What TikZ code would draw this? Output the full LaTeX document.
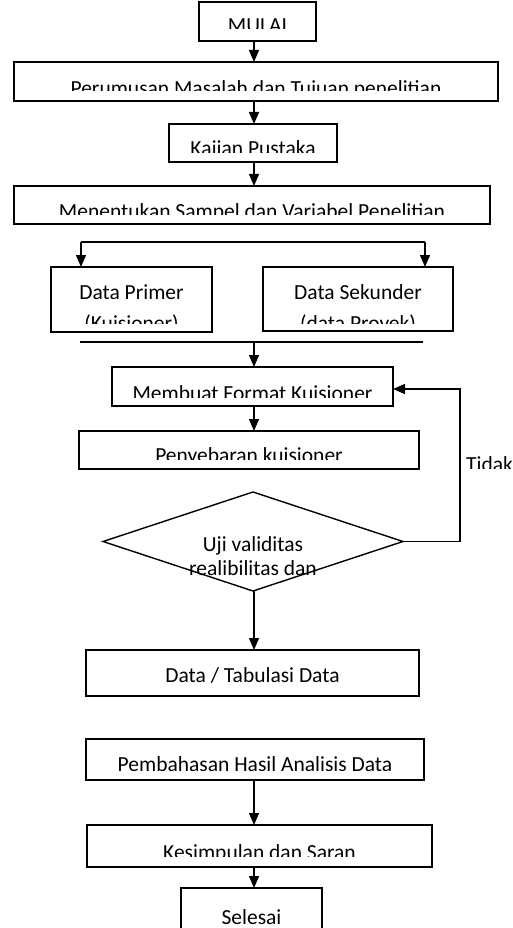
\documentclass[tikz,border=0pt]{standalone}
\usepackage{fontspec}
\setmainfont{Carlito}
\usetikzlibrary{arrows.meta,shapes.geometric}
\newcommand\flowbox[5]{\node[box, minimum width={(#4-#2)*1pt}, minimum height={(#5-#3)*1pt}] (#1) at ({(#2+#4)/2},{(#3+#5)/2}) {};}
\newcommand\boxtext[4]{\begin{scope}\clip (#1.north west) rectangle (#1.east |- 0,#2);\node[txt] (#1-t) at (#1.center |- 0,#3) {#4};\end{scope}}
\begin{document}
\begin{tikzpicture}[x=1pt,y=-1pt,
  box/.style={draw, line width=1.4pt, rectangle, inner sep=0pt, outer sep=0pt},
  txt/.style={anchor=base, inner sep=0pt, font=\fontsize{21.5}{26}\selectfont},
  arr/.style={line width=1.4pt, -{Triangle[width=10pt,length=12pt]}},
  ln/.style={line width=1.4pt}]
\clip (0,0) rectangle (513,928);
\coordinate (axis) at (254,0);
% boxes
\flowbox{mulai}{199}{2}{316}{41}
\boxtext{mulai}{29}{33}{MULAI}
\flowbox{rumus}{14}{62}{498}{101}
\boxtext{rumus}{91}{95.5}{Perumusan Masalah dan Tujuan penelitian}
\flowbox{kajian}{169}{124}{337}{162}
\boxtext{kajian}{153}{156}{Kajian Pustaka}
\flowbox{sampel}{14}{186}{490}{224}
\boxtext{sampel}{214}{218}{Menentukan Sampel dan Variabel Penelitian}
\flowbox{primer}{51}{267}{212}{332}
\flowbox{sekunder}{263}{267}{453}{331}
\begin{scope}
\clip (primer.north west) rectangle (primer.east |- 0,323);
\node[txt] (primer-t1) at (primer.center |- 0,299) {Data Primer};
\node[txt] (primer-t2) at (primer.center |- 0,330) {(Kuisioner)};
\end{scope}
\begin{scope}
\clip (sekunder.north west) rectangle (sekunder.east |- 0,323);
\node[txt] (sekunder-t1) at (sekunder.center |- 0,299) {Data Sekunder};
\node[txt] (sekunder-t2) at (sekunder.center |- 0,330) {(data Proyek)};
\end{scope}
\flowbox{format}{112}{367}{393}{406}
\boxtext{format}{397}{400}{Membuat Format Kuisioner}
\flowbox{sebar}{79}{431}{419}{469}
\boxtext{sebar}{459}{462}{Penyebaran kuisioner}
\node[draw, diamond, line width=1.4pt, inner sep=0pt, outer sep=0pt, minimum width=300pt, minimum height=99pt] (uji) at (253,541.5) {};
\node[txt] (uji-t1) at (253,551) {Uji validitas};
\node[txt] (uji-t2) at (253,575) {realibilitas dan};
\flowbox{tabulasi}{86}{650}{419}{696}
\boxtext{tabulasi}{696}{682}{Data / Tabulasi Data}
\flowbox{bahas}{86}{739}{424}{780}
\boxtext{bahas}{770}{771}{Pembahasan Hasil Analisis Data}
\flowbox{simpul}{87}{825}{432}{867}
\boxtext{simpul}{856}{859}{Kesimpulan dan Saran}
\flowbox{selesai}{181}{888}{322}{960}
\boxtext{selesai}{960}{924}{Selesai}
% Tidak label
\begin{scope}
\clip (440,440) rectangle (513,468);
\node[txt, anchor=base west] (tidak) at (466,471) {Tidak};
\end{scope}
% connectors
\draw[arr] (mulai.south -| axis) -- (rumus.north -| axis);
\draw[arr] (rumus.south -| axis) -- (kajian.north -| axis);
\draw[arr] (kajian.south -| axis) -- (sampel.north -| axis);
\coordinate (sL) at (81,242);
\coordinate (sR) at (425,242);
\draw[ln] (sL) -- (sR);
\draw[arr] (sL) -- (sL |- primer.north);
\draw[arr] (sR) -- (sR |- sekunder.north);
\coordinate (mL) at (80,342);
\coordinate (mR) at (423,342);
\draw[ln] (mL) -- (mR);
\draw[arr] (mL -| axis) -- (format.north -| axis);
\draw[arr] (format.south -| axis) -- (sebar.north -| axis);
\coordinate (loopB) at (460,541.5);
\coordinate (loopT) at (460,389);
\draw[arr] (uji.east) -- (loopB) -- (loopT) -- (format.east |- loopT);
\draw[arr] (uji.south -| axis) -- (tabulasi.north -| axis);
\draw[arr] (bahas.south -| axis) -- (simpul.north -| axis);
\draw[arr] (simpul.south -| axis) -- (selesai.north -| axis);
\end{tikzpicture}
\end{document}
